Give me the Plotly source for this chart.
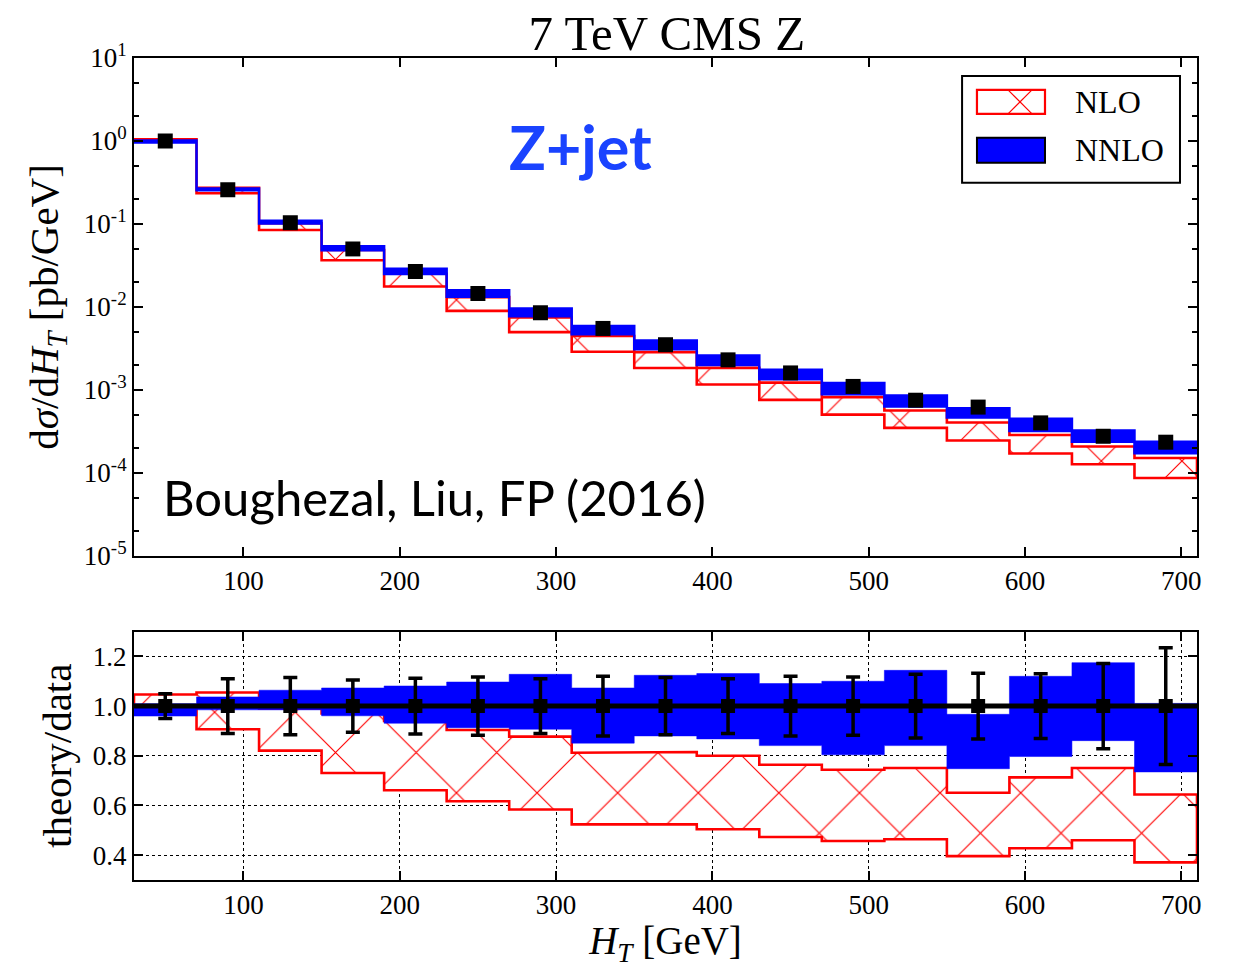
import plotly.graph_objects as go

# ---------------- data ----------------
bin_edges = [30, 70, 110, 150, 190, 230, 270, 310, 350, 390, 430, 470, 510, 550, 590, 630, 670, 710]
bin_centers = [50, 90, 130, 170, 210, 250, 290, 330, 370, 410, 450, 490, 530, 570, 610, 650, 690]

# CMS data dsigma/dHT [pb/GeV]
data_xsec = [1.0, 0.258, 0.103, 0.050, 0.0267, 0.0145, 0.0085, 0.0055, 0.0035, 0.0023,
             0.0016, 0.0011, 7.5e-4, 6.2e-4, 4.0e-4, 2.76e-4, 2.34e-4]
# relative data uncertainty
data_err_rel = [0.05, 0.11, 0.115, 0.105, 0.112, 0.117, 0.11, 0.12, 0.115, 0.11,
                0.12, 0.117, 0.128, 0.132, 0.13, 0.172, 0.235]

# theory / data bands
nlo_lo = [0.985, 0.907, 0.821, 0.731, 0.661, 0.617, 0.584, 0.524, 0.524, 0.504,
          0.473, 0.457, 0.464, 0.396, 0.428, 0.460, 0.371]
nlo_hi = [1.047, 1.055, 0.990, 0.970, 0.940, 0.904, 0.877, 0.812, 0.815, 0.800,
          0.764, 0.744, 0.751, 0.651, 0.713, 0.751, 0.644]
nnlo_lo = [0.960, 0.985, 0.985, 0.961, 0.931, 0.913, 0.907, 0.851, 0.880, 0.868,
           0.841, 0.804, 0.841, 0.748, 0.797, 0.861, 0.735]
nnlo_hi = [1.010, 1.037, 1.064, 1.073, 1.081, 1.097, 1.128, 1.073, 1.124, 1.131,
           1.091, 1.100, 1.144, 0.967, 1.120, 1.175, 1.011]

x_ticks = [100, 200, 300, 400, 500, 600, 700]
y_top_ticks = [1e-5, 1e-4, 1e-3, 1e-2, 1e-1, 1e0, 1e1]
y_top_labels = ["10<sup>-5</sup>", "10<sup>-4</sup>", "10<sup>-3</sup>", "10<sup>-2</sup>",
                "10<sup>-1</sup>", "10<sup>0</sup>", "10<sup>1</sup>"]
y_bot_ticks = [0.4, 0.6, 0.8, 1.0, 1.2]
y_bot_labels = ["0.4", "0.6", "0.8", "1.0", "1.2"]
legend_labels = ["NLO", "NNLO"]

# ---------------- helpers ----------------
def steps(vals):
    xs, ys = [], []
    for i, v in enumerate(vals):
        xs += [bin_edges[i], bin_edges[i + 1]]
        ys += [v, v]
    return xs, ys

def band(lo, hi):
    xh, yh = steps(hi)
    xl, yl = steps(lo)
    return xh + xl[::-1] + [xh[0]], yh + yl[::-1] + [yh[0]]

nlo_abs_lo = [d * r for d, r in zip(data_xsec, nlo_lo)]
nlo_abs_hi = [d * r for d, r in zip(data_xsec, nlo_hi)]
nnlo_abs_lo = [d * r for d, r in zip(data_xsec, nnlo_lo)]
nnlo_abs_hi = [d * r for d, r in zip(data_xsec, nnlo_hi)]

RED = "#ff0000"
BLUE = "#0000ff"
SERIF = "Liberation Serif"
SANS = "Lato"
hatch = dict(shape="x", fgcolor=RED, fgopacity=1, bgcolor="white", size=57,
             solidity=0.04, fillmode="overlay")

fig = go.Figure()

# ---- top panel ----
bx, by = band(nlo_abs_lo, nlo_abs_hi)
fig.add_trace(go.Scatter(x=bx, y=by, mode="lines", fill="toself", fillcolor="white",
                         fillpattern=hatch, line=dict(color=RED, width=2.6),
                         name=legend_labels[0], xaxis="x", yaxis="y", hoverinfo="skip"))
bx, by = band(nnlo_abs_lo, nnlo_abs_hi)
fig.add_trace(go.Scatter(x=bx, y=by, mode="lines", fill="toself", fillcolor=BLUE,
                         line=dict(color=BLUE, width=2.5),
                         name=legend_labels[1], xaxis="x", yaxis="y", hoverinfo="skip"))
fig.add_trace(go.Scatter(x=bin_centers, y=data_xsec, mode="markers",
                         marker=dict(symbol="square", size=15, color="black"),
                         xaxis="x", yaxis="y"))

# ---- ratio panel ----
bx, by = band(nlo_lo, nlo_hi)
fig.add_trace(go.Scatter(x=bx, y=by, mode="lines", fill="toself", fillcolor="white",
                         fillpattern=hatch, line=dict(color=RED, width=2.6),
                         xaxis="x2", yaxis="y2", hoverinfo="skip"))
bx, by = band(nnlo_lo, nnlo_hi)
fig.add_trace(go.Scatter(x=bx, y=by, mode="lines", fill="toself", fillcolor=BLUE,
                         line=dict(color=BLUE, width=0.5),
                         xaxis="x2", yaxis="y2", hoverinfo="skip"))
ones = [1.0 for _ in bin_centers]
sx, sy = steps(ones)
fig.add_trace(go.Scatter(x=sx, y=sy, mode="lines", line=dict(color="black", width=5),
                         xaxis="x2", yaxis="y2", hoverinfo="skip"))
fig.add_trace(go.Scatter(x=bin_centers, y=ones, mode="markers",
                         marker=dict(symbol="square", size=14, color="black"),
                         error_y=dict(type="data", array=data_err_rel, color="black",
                                      thickness=3.5, width=7),
                         xaxis="x2", yaxis="y2"))

axis_common = dict(showline=True, linecolor="black", linewidth=2, mirror="ticks",
                   ticks="inside", tickcolor="black", tickwidth=1.5,
                   tickfont=dict(family=SERIF, size=27, color="black"), zeroline=False)

# ---- legend box (drawn by hand so the swatches look like the original) ----
shapes = [
    dict(type="rect", xref="x domain", yref="y domain", x0=0.779, x1=0.984, y0=0.7495, y1=0.9639,
         line=dict(color="black", width=2), fillcolor="white", layer="above"),
    dict(type="rect", xref="x domain", yref="y domain", x0=0.793, x1=0.857, y0=0.8878, y1=0.9359,
         line=dict(color=RED, width=2.2), fillcolor="white", layer="above"),
    dict(type="line", xref="x domain", yref="y domain", x0=0.8222, x1=0.8448, y0=0.8878, y1=0.9359,
         line=dict(color=RED, width=1.2), layer="above"),
    dict(type="line", xref="x domain", yref="y domain", x0=0.8222, x1=0.8448, y0=0.9359, y1=0.8878,
         line=dict(color=RED, width=1.2), layer="above"),
    dict(type="rect", xref="x domain", yref="y domain", x0=0.793, x1=0.857, y0=0.7896, y1=0.8397,
         line=dict(color="black", width=2), fillcolor=BLUE, layer="above"),
]

annotations = [
    dict(text=legend_labels[0], x=0.8834, y=0.9118, xref="x domain", yref="y domain",
         xanchor="left", yanchor="middle", showarrow=False,
         font=dict(family=SERIF, size=32, color="black")),
    dict(text=legend_labels[1], x=0.8834, y=0.8156, xref="x domain", yref="y domain",
         xanchor="left", yanchor="middle", showarrow=False,
         font=dict(family=SERIF, size=32, color="black")),
    dict(text="<b>Z+jet</b>", x=0.4196, y=0.8216, xref="x domain", yref="y domain",
         xanchor="center", yanchor="middle", showarrow=False,
         font=dict(family=SANS, size=61, color="#1a43ff")),
    dict(text="Boughezal, Liu, FP (2016)", x=0.283, y=0.118, xref="x domain",
         yref="y domain", xanchor="center", yanchor="middle", showarrow=False,
         font=dict(family=SANS, size=49, color="black")),
]

fig.update_layout(
    width=1236, height=968,
    margin=dict(l=134, r=39, t=58, b=86),
    paper_bgcolor="white", plot_bgcolor="white",
    showlegend=False,
    title=dict(text="7 TeV CMS Z", x=0.5395, xanchor="center", y=1 - 33 / 968,
               yanchor="middle", yref="container",
               font=dict(family=SERIF, size=49, color="black")),
    xaxis=dict(domain=[0, 1], range=[30, 710], anchor="y", tickvals=x_ticks,
               ticklen=9, showgrid=False, **axis_common),
    yaxis=dict(domain=[0.3944, 1], type="log", range=[-5, 1], anchor="x",
               tickvals=y_top_ticks, ticktext=y_top_labels, ticklen=9, showgrid=False,
               minor=dict(ticks="inside", ticklen=5, tickcolor="black", showgrid=False),
               title=dict(text="d<i>\u03c3</i>/d<i>H</i><sub><i>T</i></sub> [pb/GeV]",
                          font=dict(family=SERIF, size=41, color="black"), standoff=12),
               **axis_common),
    xaxis2=dict(domain=[0, 1], range=[30, 710], anchor="y2", tickvals=x_ticks,
                ticklen=9, showgrid=True, gridcolor="black", griddash="dot", gridwidth=1,
                title=dict(text="<i>H</i><sub><i>T</i></sub> [GeV]",
                           font=dict(family=SERIF, size=39, color="black"), standoff=8),
                **axis_common),
    yaxis2=dict(domain=[0, 0.3022], range=[0.3, 1.3], anchor="x2",
                tickvals=y_bot_ticks, ticktext=y_bot_labels, ticklen=9,
                showgrid=True, gridcolor="black", griddash="dot", gridwidth=1,
                title=dict(text="theory/data",
                           font=dict(family=SERIF, size=41, color="black"), standoff=8),
                **axis_common),
    shapes=shapes,
    annotations=annotations,
)

fig.write_html("out.html")
